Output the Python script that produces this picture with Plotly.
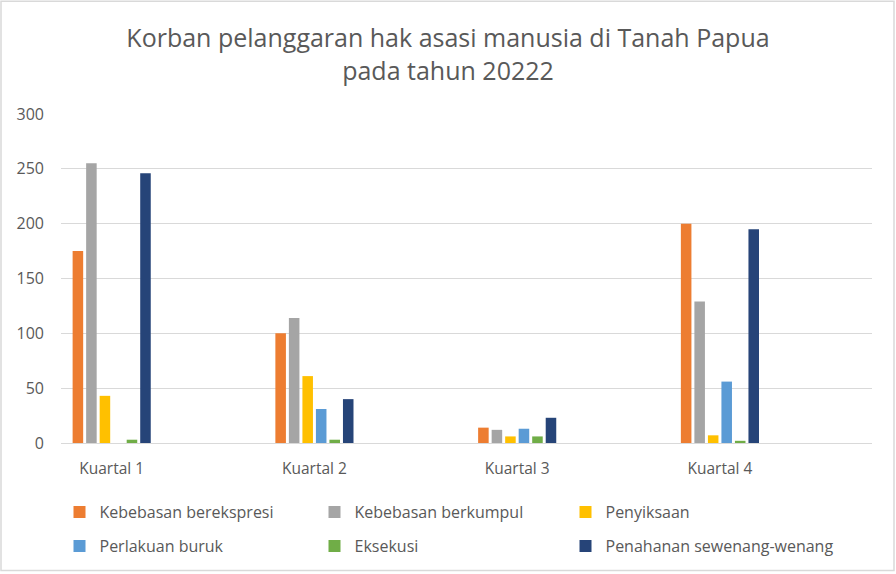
import plotly.graph_objects as go

# data
quarters = ["Kuartal 1", "Kuartal 2", "Kuartal 3", "Kuartal 4"]
kebebasan_berekspresi = [175, 100, 14, 200]
kebebasan_berkumpul = [255, 114, 12, 129]
penyiksaan = [43, 61, 6, 7]
perlakuan_buruk = [0, 31, 13, 56]
eksekusi = [3, 3, 6, 2]
penahanan_sewenang = [246, 40, 23, 195]

series_names = ["Kebebasan berekspresi", "Kebebasan berkumpul", "Penyiksaan",
                "Perlakuan buruk", "Eksekusi", "Penahanan sewenang-wenang"]
series_values = [kebebasan_berekspresi, kebebasan_berkumpul, penyiksaan,
                 perlakuan_buruk, eksekusi, penahanan_sewenang]
colors = ["#ED7D31", "#A5A5A5", "#FFC000", "#5B9BD5", "#70AD47", "#264478"]

W, H = 896, 574
ml, mr, mt, mb = 61, 24, 114, 130
pw = W - ml - mr
ph = H - mt - mb

text_col = "#595959"
grid_col = "#D9D9D9"

# legend grid: 3 columns x 2 rows (pixel positions of each entry)
leg_cols_px = [59.5, 314.5, 565.5]
leg_rows_px = [512, 546]

fig = go.Figure()
legends = {}
for i, (name, vals, col) in enumerate(zip(series_names, series_values, colors)):
    key = "legend" if i == 0 else f"legend{i + 1}"
    fig.add_trace(go.Bar(
        x=quarters, y=vals, name=name,
        marker=dict(color=col, line=dict(width=0)),
        legend=key, showlegend=True,
    ))
    legends[key] = dict(
        orientation="h",
        xanchor="left", yanchor="middle",
        x=(leg_cols_px[i % 3] - ml) / pw,
        y=(444 - leg_rows_px[i // 3]) / ph,
        font=dict(family="Open Sans", size=16, color=text_col),
        bgcolor="rgba(0,0,0,0)",
    )

fig.update_layout(
    width=W, height=H,
    margin=dict(l=ml, r=mr, t=mt, b=mb),
    paper_bgcolor="white", plot_bgcolor="white",
    showlegend=True,
    title=dict(
        text="Korban pelanggaran hak asasi manusia di Tanah Papua<br>pada tahun 20222",
        x=0.5, xanchor="center", xref="container",
        y=1 - 47 / H, yanchor="top", yref="container",
        font=dict(family="Open Sans", size=25, color=text_col),
    ),
    barmode="group",
    bargap=0.6,
    bargroupgap=0.22,
    font=dict(family="Open Sans", color=text_col),
    **legends,
)

fig.update_xaxes(
    range=[-0.25, 3.75],
    showline=True, linecolor=grid_col, linewidth=1.3,
    showgrid=False, ticks="",
    tickfont=dict(family="Open Sans", size=15.5, color=text_col),
    ticklabelstandoff=11,
)
fig.update_yaxes(
    range=[0, 300], dtick=50,
    showgrid=True, gridcolor=grid_col, gridwidth=1.3,
    zeroline=False, showline=False, ticks="",
    tickfont=dict(family="Open Sans", size=16, color=text_col),
    ticklabelstandoff=16,
)

# chart-area border
fig.add_shape(
    type="rect", xref="paper", yref="paper",
    x0=(1 - ml) / pw, x1=(W - 2 - ml) / pw,
    y0=-(mb - 2) / ph, y1=(mt + ph - 1) / ph,
    line=dict(color=grid_col, width=1.5), layer="below",
)

fig.write_html("out.html", config={"displayModeBar": False},
               post_script="document.body.style.margin='0';")
